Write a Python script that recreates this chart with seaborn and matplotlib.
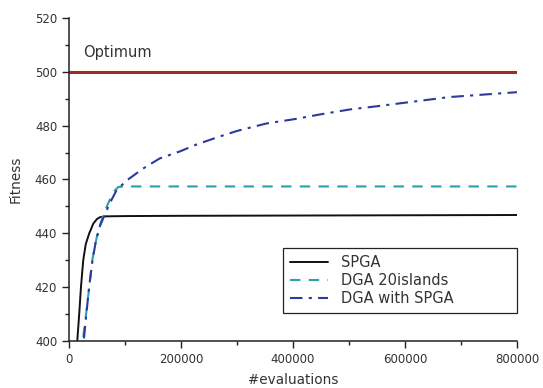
import pandas as pd
import seaborn as sns
import matplotlib.pyplot as plt
from matplotlib.ticker import MultipleLocator

# values
spga_x = [14800, 18400, 21400, 25500, 30000, 36200, 39300, 43400, 50000, 55400,
          65000, 100000, 200000, 400000, 600000, 800000]
spga_y = [400, 410.3, 420, 430, 436, 440, 441.5, 443.6, 445.3, 446.0,
          446.3, 446.4, 446.5, 446.6, 446.7, 446.8]

dga20_x = [25500, 30000, 36200, 41600, 47000, 52300, 60000, 67000, 75000, 82000,
           88000, 100000, 200000, 400000, 600000, 800000]
dga20_y = [401.5, 409, 420, 430, 436, 441, 446, 449.7, 453.4, 455.9,
           457.2, 457.4, 457.4, 457.4, 457.4, 457.4]

dgas_x = [26800, 31000, 36000, 42000, 48000, 55000, 65000, 75000, 85000, 103000,
          132000, 162000, 198000, 228000, 270000, 300000, 353000, 400000, 450000,
          502000, 555000, 600000, 680000, 740000, 800000]
dgas_y = [401, 410, 420, 430, 437, 442.5, 447.5, 452, 456, 459.6,
          464, 467.8, 470.4, 473, 476, 478, 480.8, 482.3, 484.2,
          486, 487.3, 488.5, 490.6, 491.5, 492.4]

optimum_x = [0, 800000]
optimum_y = [500, 500]

sns.set_style("ticks")
plt.rcParams['font.family'] = ['DejaVu Sans']
text_col = '#333333'

fig, ax = plt.subplots(figsize=(5.43, 3.88), dpi=100)
fig.subplots_adjust(left=0.127, right=0.952, top=0.954, bottom=0.121)

sns.lineplot(x=optimum_x, y=optimum_y, ax=ax, color='#9e2a2b', linewidth=2.2)
sns.lineplot(x=spga_x, y=spga_y, ax=ax, color='#111111', linewidth=1.4, label='SPGA')
sns.lineplot(x=dga20_x, y=dga20_y, ax=ax, color='#2aa0ad', linewidth=1.5,
             label='DGA 20islands', linestyle=(0, (5, 4)))
sns.lineplot(x=dgas_x, y=dgas_y, ax=ax, color='#2b3a9c', linewidth=1.5,
             label='DGA with SPGA', linestyle=(0, (6, 3, 1.5, 3)))

ax.text(25000, 507, 'Optimum', fontsize=10.5, color=text_col, va='center')

ax.set_xlim(0, 800000)
ax.set_ylim(400, 520)
ax.xaxis.set_major_locator(MultipleLocator(200000))
ax.xaxis.set_minor_locator(MultipleLocator(100000))
ax.yaxis.set_major_locator(MultipleLocator(20))
ax.yaxis.set_minor_locator(MultipleLocator(10))
ax.tick_params(which='major', length=5, width=1, colors='#222222', labelsize=8.5,
               labelcolor=text_col, direction='out')
ax.tick_params(which='minor', length=3, width=1, colors='#222222', direction='out')
ax.ticklabel_format(style='plain', axis='x')
for s in ['left', 'bottom']:
    ax.spines[s].set_color('#222222')
    ax.spines[s].set_linewidth(1.1)
sns.despine(ax=ax)

ax.set_xlabel('#evaluations', fontsize=9.8, color=text_col, labelpad=5)
ax.set_ylabel('Fitness', fontsize=9.8, color=text_col, labelpad=9)

leg = ax.legend(loc='lower left', bbox_to_anchor=(0.478, 0.0867, 0.523, 0.2),
                mode='expand', borderaxespad=0, fontsize=10.5,
                frameon=True, fancybox=False, framealpha=1, edgecolor='#222222',
                handlelength=2.6, handletextpad=0.9, borderpad=0.5,
                labelspacing=0.2)
leg.get_frame().set_linewidth(0.9)
for t in leg.get_texts():
    t.set_color(text_col)

fig.savefig('out.png', dpi=100)
